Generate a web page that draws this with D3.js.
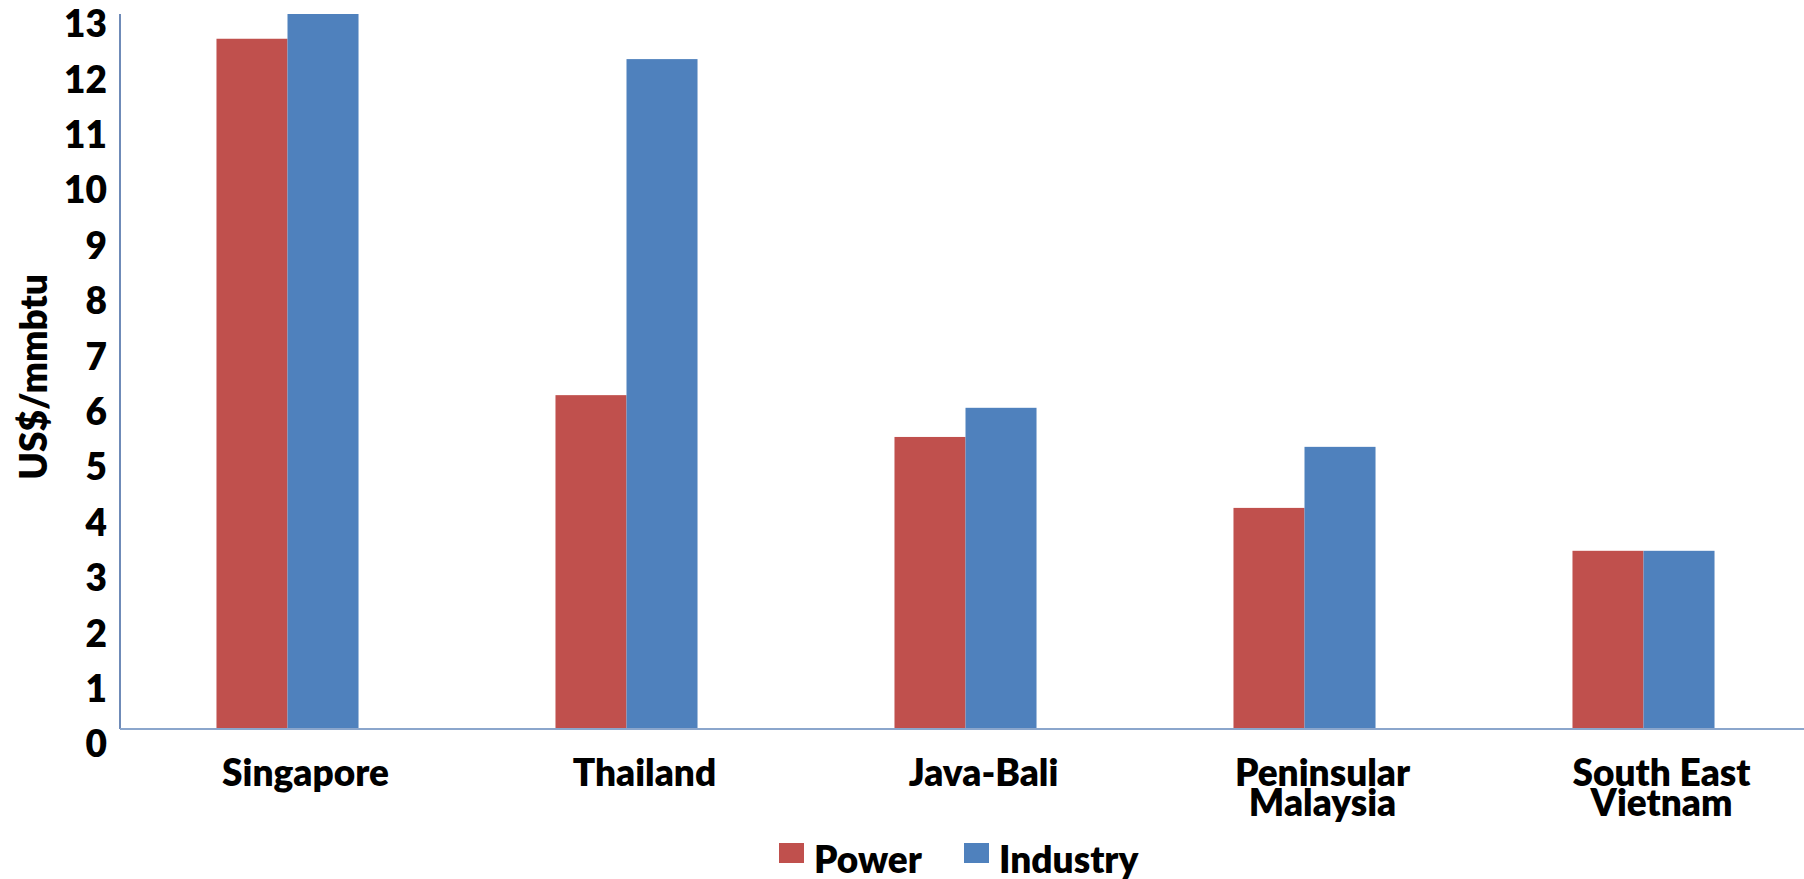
<!DOCTYPE html>
<html>
<head>
<meta charset="utf-8">
<script src="https://cdn.jsdelivr.net/npm/d3@7"></script>
<style>
  html, body { margin: 0; padding: 0; background: #ffffff; }
  svg { display: block; }
  text { font-family: Lato, "Open Sans", sans-serif; font-weight: 800; fill: #000; }
</style>
</head>
<body>
<div id="chart"></div>
<script>
// ---- data ----
const categories = ["Singapore", "Thailand", "Java-Bali", "Peninsular Malaysia", "South East Vietnam"];
const categoryLines = [["Singapore"], ["Thailand"], ["Java-Bali"], ["Peninsular", "Malaysia"], ["South East", "Vietnam"]];
const seriesNames = ["Power", "Industry"];
const powerValues = [12.55, 6.07, 5.31, 4.02, 3.24];
const industryValues = [13.0, 12.18, 5.84, 5.13, 3.24];
const yTickValues = [0, 1, 2, 3, 4, 5, 6, 7, 8, 9, 10, 11, 12, 13];
const yTitle = "US$/mmbtu";
const seriesColors = ["#C0504D", "#4F81BD"];

// ---- layout ----
const W = 1804, H = 879;
const plotLeft = 120, plotRight = 1804, plotTop = 14, plotBottom = 729;
const FONT = "Lato, 'Open Sans', sans-serif";

const svg = d3.select("#chart").append("svg").attr("width", W).attr("height", H);

const y = d3.scaleLinear().domain([0, 13]).range([plotBottom, plotTop]);
// tick labels sit slightly below their gridline positions in the reference
const yLabel = d3.scaleLinear().domain([0, 13]).range([745, 25]);

const x0 = d3.scaleBand().domain(categories).range([118, 1813]).paddingInner(0.581).paddingOuter(0.2905);
const x1 = d3.scaleBand().domain(seriesNames).range([0, x0.bandwidth()]).padding(0);
const color = d3.scaleOrdinal().domain(seriesNames).range(seriesColors);

const rows = categories.map((c, i) => ({
  cat: c,
  lines: categoryLines[i],
  vals: [{ s: "Power", v: powerValues[i] }, { s: "Industry", v: industryValues[i] }]
}));

// bars
const groups = svg.append("g").selectAll("g").data(rows).join("g")
  .attr("transform", d => `translate(${x0(d.cat)},0)`);
groups.selectAll("rect").data(d => d.vals).join("rect")
  .attr("x", d => x1(d.s))
  .attr("y", d => y(d.v))
  .attr("width", x1.bandwidth())
  .attr("height", d => y(0) - y(d.v))
  .attr("fill", d => color(d.s));

// axis lines
svg.append("line").attr("x1", plotLeft).attr("x2", plotLeft).attr("y1", y(13)).attr("y2", y(0))
  .attr("stroke", "#3f64a0").attr("stroke-width", 1.5);
svg.append("line").attr("x1", plotLeft).attr("x2", plotRight).attr("y1", y(0)).attr("y2", y(0))
  .attr("stroke", "#8ba6cc").attr("stroke-width", 2);

// y tick labels
const yAxis = svg.append("g").attr("transform", "translate(107,0)")
  .call(d3.axisLeft(yLabel).tickValues(yTickValues).tickSize(0).tickPadding(0).tickFormat(d3.format("d")));
yAxis.select(".domain").remove();
yAxis.selectAll("text").attr("font-size", 37).attr("font-family", FONT)
  .attr("font-weight", 800).attr("fill", "#000");

// y title
svg.append("text")
  .attr("transform", "translate(47,377) rotate(-90)")
  .attr("text-anchor", "middle")
  .attr("font-size", 37)
  .text(yTitle);

// category labels
const catLabels = svg.append("g").selectAll("text").data(rows).join("text")
  .attr("text-anchor", "middle")
  .attr("font-size", 37)
  .attr("transform", d => `translate(${x0(d.cat) + x0.bandwidth() / 2 + 18},786)`);
catLabels.selectAll("tspan").data(d => d.lines).join("tspan")
  .attr("x", 0)
  .attr("y", (d, i) => i * 30)
  .text(d => d);

// legend
const legend = svg.append("g");
const legendX = d3.scaleOrdinal().domain(seriesNames).range([779, 964]);
const li = legend.selectAll("g").data(seriesNames).join("g")
  .attr("transform", d => `translate(${legendX(d)},843)`);
li.append("rect").attr("width", 25).attr("height", 20).attr("fill", d => color(d));
li.append("text").attr("x", 35).attr("y", 30).attr("font-size", 37).text(d => d);
</script>
</body>
</html>
